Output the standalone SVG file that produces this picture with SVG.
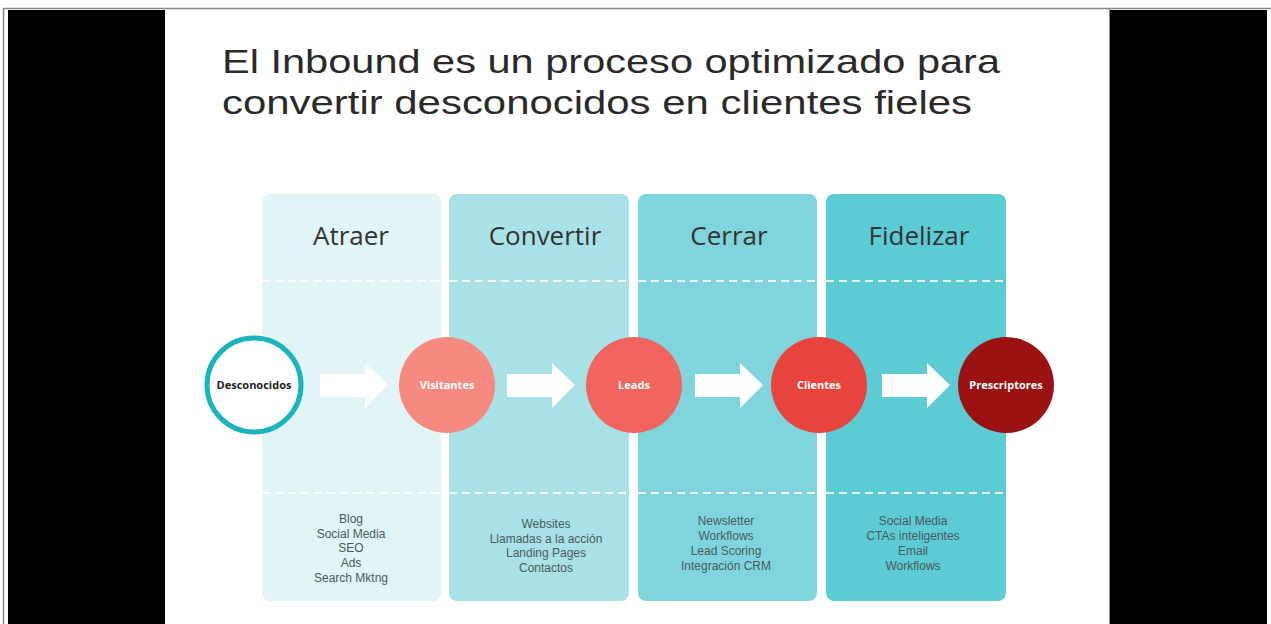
<svg xmlns="http://www.w3.org/2000/svg" width="1271" height="624" viewBox="0 0 1271 624">
<style>
.title{font-family:"Liberation Sans",Arial,sans-serif;font-size:34px;fill:#2a2a2a}
.head{font-family:"Open Sans","Liberation Sans",sans-serif;font-size:26px;fill:#333;text-anchor:middle}
.item{font-family:"Liberation Sans",Arial,sans-serif;font-size:12px;fill:#4a5a5c;text-anchor:middle}
.lbl{font-family:"Open Sans","Liberation Sans",sans-serif;font-size:11px;font-weight:bold;fill:#fff;text-anchor:middle}
.dash{stroke:#fff;stroke-width:2;stroke-dasharray:8 5;opacity:0.85}
.arrow{fill:#fff}
</style>
<rect x="0" y="0" width="1271" height="624" fill="#fff"/>
<line x1="3" y1="8.5" x2="1271" y2="8.5" stroke="#888" stroke-width="1.5"/>
<line x1="3.5" y1="8" x2="3.5" y2="624" stroke="#888" stroke-width="1.5"/>
<rect x="8" y="10" width="157" height="614" fill="#000"/>
<line x1="1109.5" y1="9" x2="1109.5" y2="624" stroke="#888" stroke-width="1.5"/>
<rect x="1110" y="10" width="157" height="614" fill="#000"/>
<rect x="165" y="10" width="944" height="614" fill="#fff"/>

<text class="title" x="222" y="73" textLength="778" lengthAdjust="spacingAndGlyphs">El Inbound es un proceso optimizado para</text>
<text class="title" x="222" y="114" textLength="750" lengthAdjust="spacingAndGlyphs">convertir desconocidos en clientes fieles</text>

<g id="col-atraer">
<rect x="262" y="194" width="179" height="407" rx="8" fill="#e1f4f6"/>
<text class="head" x="351" y="245">Atraer</text>
<line class="dash" x1="262" y1="281" x2="441" y2="281"/>
<line class="dash" x1="262" y1="493" x2="441" y2="493"/>
<text class="item" x="351" y="523">Blog</text>
<text class="item" x="351" y="538">Social Media</text>
<text class="item" x="351" y="552">SEO</text>
<text class="item" x="351" y="567">Ads</text>
<text class="item" x="351" y="582">Search Mktng</text>
</g>
<g id="col-convertir">
<rect x="449" y="194" width="180" height="407" rx="8" fill="#a8e2e6"/>
<text class="head" x="545" y="245">Convertir</text>
<line class="dash" x1="449" y1="281" x2="629" y2="281"/>
<line class="dash" x1="449" y1="493" x2="629" y2="493"/>
<text class="item" x="546" y="528">Websites</text>
<text class="item" x="546" y="543">Llamadas a la acción</text>
<text class="item" x="546" y="557">Landing Pages</text>
<text class="item" x="546" y="572">Contactos</text>
</g>
<g id="col-cerrar">
<rect x="638" y="194" width="179" height="407" rx="8" fill="#80d5dc"/>
<text class="head" x="729" y="245">Cerrar</text>
<line class="dash" x1="638" y1="281" x2="817" y2="281"/>
<line class="dash" x1="638" y1="493" x2="817" y2="493"/>
<text class="item" x="726" y="525">Newsletter</text>
<text class="item" x="726" y="540">Workflows</text>
<text class="item" x="726" y="555">Lead Scoring</text>
<text class="item" x="726" y="570">Integración CRM</text>
</g>
<g id="col-fidelizar">
<rect x="826" y="194" width="180" height="407" rx="8" fill="#5ccbd3"/>
<text class="head" x="919" y="245">Fidelizar</text>
<line class="dash" x1="826" y1="281" x2="1006" y2="281"/>
<line class="dash" x1="826" y1="493" x2="1006" y2="493"/>
<text class="item" x="913" y="525">Social Media</text>
<text class="item" x="913" y="540">CTAs inteligentes</text>
<text class="item" x="913" y="555">Email</text>
<text class="item" x="913" y="570">Workflows</text>
</g>

<g id="connectors">
<polygon class="arrow" points="320,374 365,374 365,363 388,385 365,408 365,397 320,397"/>
<polygon class="arrow" points="507,374 552,374 552,363 575,385 552,408 552,397 507,397"/>
<polygon class="arrow" points="695,374 740,374 740,363 763,385 740,408 740,397 695,397"/>
<polygon class="arrow" points="882,374 927,374 927,363 950,385 927,408 927,397 882,397"/>
</g>

<g id="node-desconocidos">
<circle cx="254" cy="385" r="47" fill="#fff" stroke="#1ab4bf" stroke-width="5"/>
<text class="lbl" x="254" y="389" style="fill:#222">Desconocidos</text>
</g>
<g id="node-visitantes">
<circle cx="447" cy="385" r="48" fill="#f58a81"/>
<text class="lbl" x="447" y="389">Visitantes</text>
</g>
<g id="node-leads">
<circle cx="634" cy="385" r="48" fill="#f2655f"/>
<text class="lbl" x="634" y="389">Leads</text>
</g>
<g id="node-clientes">
<circle cx="819" cy="385" r="48" fill="#e8443e"/>
<text class="lbl" x="819" y="389">Clientes</text>
</g>
<g id="node-prescriptores">
<circle cx="1006" cy="385" r="48" fill="#9a1212"/>
<text class="lbl" x="1006" y="389">Prescriptores</text>
</g>
</svg>
